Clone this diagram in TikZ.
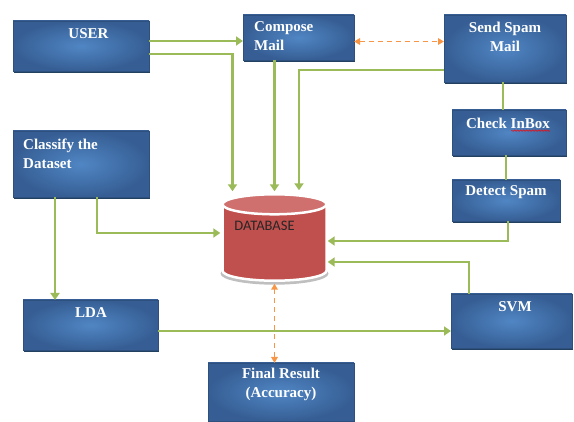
\documentclass[tikz,border=0pt]{standalone}
\usepackage{fontspec}
\setmainfont{Liberation Serif}
\newfontfamily\dbfont{Carlito}
\usetikzlibrary{arrows.meta,shadows,decorations.pathmorphing}
\definecolor{boxin}{HTML}{5086C4}
\definecolor{boxout}{HTML}{365E94}
\definecolor{boxshade}{HTML}{22405F}
\definecolor{flowgreen}{HTML}{9BBB59}
\definecolor{linkorange}{HTML}{F79646}
\definecolor{dbred}{HTML}{C0504D}
\definecolor{dbtop}{HTML}{CF706E}

\begin{document}
\begin{tikzpicture}[x=1pt, y=1pt, font=\fontsize{15}{19}\selectfont\bfseries,
	blk/.style={rectangle, inner sep=0, outer sep=0, draw=boxout!85!black, line width=.3pt, shading=radial, inner color=boxin, outer color=boxout, drop shadow={shadow xshift=1pt, shadow yshift=-2.5pt, fill=boxshade, opacity=1}},
	lbl/.style={text=white, inner sep=0, align=center},
	flow/.style={draw=flowgreen, line width=2.7pt, -{Triangle[length=7pt, width=9pt]}},
	link/.style={draw=linkorange, line width=1.7pt, dash pattern=on 5pt off 4pt, {Triangle[length=6pt, width=6.5pt]}-{Triangle[length=6pt, width=6.5pt]}}]
	\useasboundingbox (0,0) rectangle (574,-422);
	% blue boxes
	\node[blk, minimum width=136, minimum height=50] (user) at (81,-46) {};
	\node[blk, minimum width=111, minimum height=45] (compose) at (298.5,-37.5) {};
	\node[blk, minimum width=122, minimum height=67] (send) at (505,-48.5) {};
	\node[blk, minimum width=114, minimum height=45] (check) at (509,-132.5) {};
	\node[blk, minimum width=108, minimum height=41] (detect) at (506,-200.5) {};
	\node[blk, minimum width=136, minimum height=66] (classify) at (81,-164) {};
	\node[blk, minimum width=135, minimum height=50] (lda) at (90.5,-325) {};
	\node[blk, minimum width=121, minimum height=54] (svm) at (511.5,-321) {};
	\node[blk, minimum width=146, minimum height=58] (final) at (281,-392) {};
	% database cylinder
	\node[minimum width=106, minimum height=86, inner sep=0] (db) at (274.5,-237.5) {};
	\fill[gray!50] ([yshift=7]db.south) ellipse (54 and 11);
	\filldraw[fill=dbred, draw=white, line width=2.5pt] ([xshift=-52,yshift=-10]db.north) -- ([xshift=-52,yshift=10]db.south) arc[start angle=180, end angle=360, x radius=52, y radius=10] -- ([xshift=52,yshift=-10]db.north) arc[start angle=0, end angle=180, x radius=52, y radius=10] -- cycle;
	\filldraw[fill=dbtop, draw=white, line width=2.5pt] ([yshift=-10]db.north) ellipse (52 and 10);
	% texts
	\node[lbl] (usertxt) at (88.5,-34) {USER};
	\node[lbl, anchor=west, align=left] (composetxt) at (254,-36.5) {Compose\\Mail};
	\node[lbl] (sendtxt) at (505,-37) {Send Spam\\Mail};
	\node[lbl] (checktxt) at (508,-123) {Check InBox};
	\node[lbl] (detecttxt) at (506,-192) {Detect Spam};
	\node[lbl, anchor=west, align=left] (classifytxt) at (23,-153.5) {Classify the\\Dataset};
	\node[lbl] (ldatxt) at (91,-313) {LDA};
	\node[lbl] (svmtxt) at (515,-307) {SVM};
	\node[lbl] (finaltxt) at (281,-384) {Final Result\\(Accuracy)};
	\node[inner sep=0, font=\dbfont\fontsize{14.5}{17}\selectfont, text=black!85] (dbtxt) at (264.5,-226) {DATABASE};
	\draw[red, line width=.5pt, decorate, decoration={snake, amplitude=.7pt, segment length=3pt}] ([yshift=-2.5]checktxt.base east) -- ++(-39,0);
	% connectors
	\draw[flow] ([yshift=5]user.east) -- ([yshift=5]user.east -| compose.west);
	\draw[flow] ([yshift=-8]user.east) -| ([xshift=-42, yshift=3]db.north);
	\draw[flow] (compose.south -| db.north) -- ([yshift=3]db.north);
	\draw[flow] ([yshift=-21.5]send.west) -| ([xshift=24.5, yshift=4]db.north);
	\draw[link] ([yshift=-4]compose.east) -- ([yshift=-4]compose.east -| send.west);
	\draw[flow, -] ([xshift=-2]send.south) -- ([xshift=-2]send.south |- check.north);
	\draw[flow, -] (check.south -| detect.south) -- (detect.north);
	\draw[flow] ([xshift=2]detect.south) |- ([yshift=-3.5]db.east);
	\draw[flow] ([xshift=-42.5]svm.north) |- ([yshift=-24.5]db.east);
	\draw[flow] ([xshift=-26]classify.south) -- ([xshift=-26]classify.south |- lda.north);
	\draw[flow] ([xshift=16]classify.south) |- ([xshift=-1, yshift=4.5]db.west);
	\draw[flow] ([yshift=-6]lda.east) -- ([yshift=-6]lda.east -| svm.west);
	\draw[link] ([yshift=-3]db.south) -- (db.south |- final.north);
\end{tikzpicture}
\end{document}
